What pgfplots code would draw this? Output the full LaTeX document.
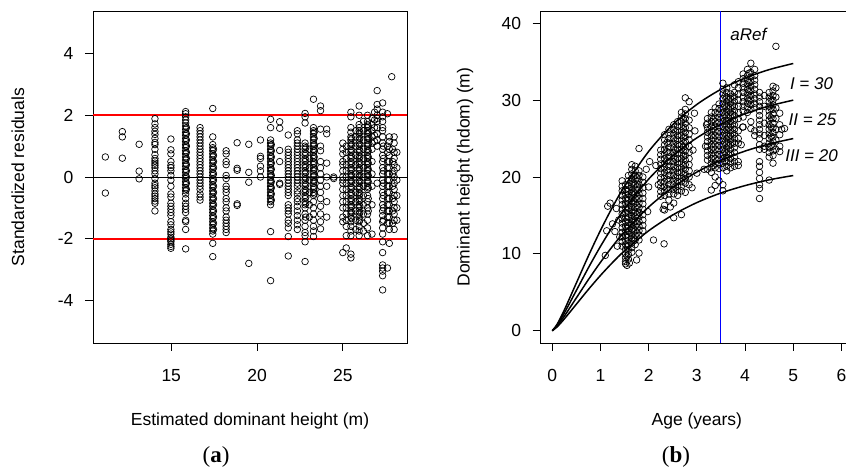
\documentclass[border=0pt]{standalone}
\usepackage{fontspec}
\setmainfont{Liberation Sans}
\newfontfamily\capfont{Liberation Serif}
\usepackage{pgfplots}
\pgfplotsset{compat=1.18}

\pgfplotsset{rpanel/.style={
  scale only axis, height=332pt,
  axis line style={black,line width=0.8pt},
  tick align=outside, major tick length=8pt,
  tick style={black,line width=0.8pt},
  xtick pos=bottom, ytick pos=left,
  font=\fontsize{17.5}{21}\selectfont,
  yticklabel style={xshift=-8pt},
  xticklabel style={yshift=-15pt},
  clip=true,
}}
\pgfplotsset{pts/.style={only marks, mark=o, mark size=3.3pt, mark options={line width=0.7pt}, black}}

\begin{document}
\begin{tikzpicture}
\useasboundingbox (0,0) rectangle (846pt,470pt);
\clip (0,0) rectangle (846pt,470pt);

% (a) residuals
\begin{axis}[rpanel,
  at={(93pt,127pt)}, anchor=south west, width=314pt,
  xmin=10.44, xmax=28.74, ymin=-5.38, ymax=5.38,
  xtick={15,20,25}, xticklabels={15,20,25},
  ytick={-4,-2,0,2,4}, yticklabels={-4,-2,0,2,4},
  xlabel={Estimated dominant height (m)},
  xlabel style={at={(axis description cs:0.5,-0.235)},anchor=center},
  ylabel={Standardized residuals},
  ylabel style={at={(axis description cs:-0.239,0.5)},anchor=center}]
\addplot[pts] coordinates {
(11.16,0.65)(11.16,-0.52)
(12.15,1.47)(12.15,1.3)(12.15,0.61)
(13.13,1.06)(13.13,0.19)(13.13,-0.06)
(14.05,1.89)(14.05,1.72)(14.05,1.6)(14.05,1.48)(14.05,1.38)(14.05,1.25)(14.05,1.12)(14.05,1.05)(14.05,0.9)(14.05,0.72)(14.05,0.6)(14.05,0.52)(14.05,0.45)(14.05,0.38)(14.05,0.3)(14.05,0.2)(14.05,0.1)(14.05,-0.05)(14.05,-0.2)(14.05,-0.28)(14.05,-0.35)(14.05,-0.45)(14.05,-0.55)(14.05,-0.62)(14.05,-0.7)(14.05,-0.78)(14.05,-0.85)(14.05,-1.1)
(14.98,1.23)(14.98,0.88)(14.98,0.75)(14.98,0.5)(14.98,0.38)(14.98,0.3)(14.98,0.2)(14.98,0.05)(14.98,-0.1)(14.98,-0.3)(14.98,-0.55)(14.98,-0.65)(14.98,-0.85)(14.98,-0.95)(14.98,-1.05)(14.98,-1.15)(14.98,-1.25)(14.98,-1.45)(14.98,-1.55)(14.98,-1.7)(14.98,-1.78)(14.98,-1.85)(14.98,-1.95)(14.98,-2.0)(14.98,-2.05)(14.98,-2.1)(14.98,-2.18)(14.98,-2.25)(14.98,-2.31)
(15.84,2.12)(15.84,2.05)(15.84,1.95)(15.84,1.85)(15.84,1.75)(15.84,1.65)(15.84,1.55)(15.84,1.45)(15.84,1.35)(15.84,1.25)(15.84,1.15)(15.84,1.05)(15.84,0.95)(15.84,0.85)(15.84,0.75)(15.84,0.65)(15.84,0.55)(15.84,0.45)(15.84,0.35)(15.84,0.25)(15.84,0.15)(15.84,0.05)(15.84,-0.05)(15.84,-0.15)(15.84,-0.25)(15.84,-0.35)(15.84,-0.45)(15.84,-0.55)(15.84,-0.7)(15.84,-0.85)(15.84,-0.95)(15.84,-1.05)(15.84,-1.15)(15.84,-1.4)(15.84,-1.45)(15.84,-1.7)(15.84,-2.33)
(16.68,1.6)(16.68,1.5)(16.68,1.4)(16.68,1.3)(16.68,1.2)(16.68,1.1)(16.68,1.0)(16.68,0.9)(16.68,0.8)(16.68,0.7)(16.68,0.6)(16.68,0.5)(16.68,0.4)(16.68,0.3)(16.68,0.2)(16.68,0.1)(16.68,0.0)(16.68,-0.1)(16.68,-0.2)(16.68,-0.3)(16.68,-0.4)(16.68,-0.55)(16.68,-0.65)(16.68,-0.75)
(17.42,2.22)(17.42,1.3)(17.42,1.05)(17.42,0.95)(17.42,0.85)(17.42,0.75)(17.42,0.65)(17.42,0.55)(17.42,0.45)(17.42,0.35)(17.42,0.25)(17.42,0.15)(17.42,0.05)(17.42,-0.05)(17.42,-0.15)(17.42,-0.25)(17.42,-0.35)(17.42,-0.45)(17.42,-0.55)(17.42,-0.65)(17.42,-0.75)(17.42,-0.85)(17.42,-0.95)(17.42,-1.05)(17.42,-1.15)(17.42,-1.25)(17.42,-1.35)(17.42,-1.45)(17.42,-1.55)(17.42,-1.65)(17.42,-1.75)(17.42,-1.85)(17.42,-2.15)(17.42,-2.58)
(18.2,0.85)(18.2,0.75)(18.2,0.5)(18.2,0.4)(18.2,0.05)(18.2,-0.05)(18.2,-0.3)(18.2,-0.4)(18.2,-0.5)(18.2,-0.7)(18.2,-0.8)(18.2,-1.0)(18.2,-1.1)(18.2,-1.3)(18.2,-1.4)(18.2,-1.5)(18.2,-1.6)(18.2,-1.7)(18.2,-1.8)
(18.84,1.11)(18.84,0.28)(18.84,0.22)(18.84,-0.87)(18.84,-0.92)
(19.52,1.06)(19.52,0.15)(19.52,-0.17)(19.52,-2.8)
(20.2,1.2)(20.2,0.67)(20.2,0.6)(20.2,0.35)(20.2,0.2)(20.2,0.0)
(20.79,1.87)(20.79,1.6)(20.79,1.2)(20.79,1.1)(20.79,1.0)(20.79,0.9)(20.79,0.8)(20.79,0.7)(20.79,0.6)(20.79,0.5)(20.79,0.4)(20.79,0.3)(20.79,0.2)(20.79,0.1)(20.79,0.0)(20.79,-0.1)(20.79,-0.2)(20.79,-0.3)(20.79,-0.4)(20.79,-0.5)(20.79,-0.6)(20.79,-0.7)(20.79,-0.8)(20.79,-0.9)(20.79,-1.77)(20.79,-3.36)
(21.32,1.79)(21.32,1.58)(21.32,0.86)(21.32,0.5)(21.32,-0.24)(21.32,-0.2)
(21.82,1.36)(21.82,0.9)(21.82,0.8)(21.82,0.7)(21.82,0.6)(21.82,0.5)(21.82,0.4)(21.82,0.3)(21.82,0.2)(21.82,0.1)(21.82,0.0)(21.82,-0.1)(21.82,-0.2)(21.82,-0.3)(21.82,-0.4)(21.82,-0.5)(21.82,-0.6)(21.82,-0.9)(21.82,-1.0)(21.82,-1.1)(21.82,-1.2)(21.82,-1.4)(21.82,-1.5)(21.82,-1.65)(21.82,-1.93)(21.82,-2.56)
(22.35,1.5)(22.35,1.4)(22.35,1.2)(22.35,1.1)(22.35,1.0)(22.35,0.9)(22.35,0.8)(22.35,0.7)(22.35,0.6)(22.35,0.5)(22.35,0.4)(22.35,0.3)(22.35,0.2)(22.35,0.1)(22.35,0.0)(22.35,-0.1)(22.35,-0.2)(22.35,-0.3)(22.35,-0.45)(22.35,-0.55)(22.35,-0.7)(22.35,-0.8)(22.35,-0.95)(22.35,-1.1)(22.35,-1.25)(22.35,-1.4)(22.35,-1.55)(22.35,-1.7)
(22.8,2.06)(22.8,1.95)(22.8,1.75)(22.8,1.1)(22.8,1.0)(22.8,0.9)(22.8,0.8)(22.8,0.7)(22.8,0.6)(22.8,0.5)(22.8,0.4)(22.8,0.3)(22.8,0.2)(22.8,0.1)(22.8,0.0)(22.8,-0.1)(22.8,-0.2)(22.8,-0.3)(22.8,-0.4)(22.8,-0.5)(22.8,-0.6)(22.8,-0.7)(22.8,-0.8)(22.8,-0.9)(22.8,-1.0)(22.8,-1.2)(22.8,-1.4)(22.8,-1.6)(22.8,-1.8)(22.8,-1.9)(22.8,-2.1)(22.8,-2.74)
(23.05,0.9)(23.05,0.6)(23.05,0.3)(23.05,-0.1)(23.05,-0.5)(23.05,-0.9)(23.05,-1.3)
(23.29,2.52)(23.29,1.6)(23.29,1.5)(23.29,1.4)(23.29,1.3)(23.29,1.2)(23.29,1.1)(23.29,1.0)(23.29,0.9)(23.29,0.8)(23.29,0.7)(23.29,0.6)(23.29,0.5)(23.29,0.4)(23.29,0.3)(23.29,0.2)(23.29,0.1)(23.29,0.0)(23.29,-0.1)(23.29,-0.2)(23.29,-0.3)(23.29,-0.4)(23.29,-0.5)(23.29,-0.6)(23.29,-0.8)(23.29,-1.0)(23.29,-1.2)(23.29,-1.4)(23.29,-1.6)(23.29,-1.75)(23.29,-1.93)
(23.7,2.3)(23.7,2.15)(23.7,1.55)(23.7,1.0)(23.7,0.85)(23.7,0.5)(23.7,0.3)(23.7,0.1)(23.7,-0.1)(23.7,-0.3)(23.7,-0.5)(23.7,-0.7)(23.7,-0.95)(23.7,-1.2)(23.7,-1.45)(23.7,-1.68)
(24.06,1.55)(24.06,1.4)(24.06,0.45)(24.06,0.0)(24.06,-0.3)(24.06,-0.8)(24.06,-1.3)
(24.47,0.0)(24.47,-0.05)
(25.0,1.1)(25.0,0.9)(25.0,0.75)(25.0,0.5)(25.0,0.4)(25.0,0.2)(25.0,0.0)(25.0,-0.1)(25.0,-0.2)(25.0,-0.4)(25.0,-0.6)(25.0,-0.8)(25.0,-1.0)(25.0,-1.3)(25.0,-1.45)(25.0,-2.45)
(25.2,1.0)(25.2,0.8)(25.2,0.6)(25.2,0.4)(25.2,0.2)(25.2,0.0)(25.2,-0.2)(25.2,-0.4)(25.2,-0.6)(25.2,-0.8)(25.2,-1.0)(25.2,-1.2)(25.2,-1.4)(25.2,-1.6)(25.2,-1.9)(25.2,-2.3)
(25.47,2.1)(25.47,1.95)(25.47,1.6)(25.47,1.45)(25.47,1.3)(25.47,1.2)(25.47,1.1)(25.47,1.0)(25.47,0.9)(25.47,0.8)(25.47,0.7)(25.47,0.6)(25.47,0.5)(25.47,0.4)(25.47,0.3)(25.47,0.2)(25.47,0.1)(25.47,0.0)(25.47,-0.1)(25.47,-0.2)(25.47,-0.3)(25.47,-0.4)(25.47,-0.5)(25.47,-0.6)(25.47,-0.7)(25.47,-0.8)(25.47,-0.9)(25.47,-1.0)(25.47,-1.1)(25.47,-1.2)(25.47,-1.3)(25.47,-1.45)(25.47,-1.6)(25.47,-1.75)(25.47,-1.9)(25.47,-2.5)(25.47,-2.62)
(25.75,1.5)(25.75,1.3)(25.75,1.0)(25.75,0.7)(25.75,0.4)(25.75,0.1)(25.75,-0.2)(25.75,-0.5)(25.75,-0.8)(25.75,-1.1)(25.75,-1.4)(25.75,-1.7)
(25.95,2.3)(25.95,2.0)(25.95,1.7)(25.95,1.6)(25.95,1.5)(25.95,1.4)(25.95,1.3)(25.95,1.2)(25.95,1.1)(25.95,1.0)(25.95,0.9)(25.95,0.8)(25.95,0.7)(25.95,0.6)(25.95,0.5)(25.95,0.4)(25.95,0.3)(25.95,0.2)(25.95,0.1)(25.95,0.0)(25.95,-0.1)(25.95,-0.2)(25.95,-0.3)(25.95,-0.4)(25.95,-0.5)(25.95,-0.6)(25.95,-0.7)(25.95,-0.8)(25.95,-0.9)(25.95,-1.0)(25.95,-1.1)(25.95,-1.2)(25.95,-1.3)(25.95,-1.45)(25.95,-1.6)(25.95,-1.75)(25.95,-1.9)
(26.2,1.8)(26.2,1.5)(26.2,1.2)(26.2,0.9)(26.2,0.6)(26.2,0.3)(26.2,0.0)(26.2,-0.3)(26.2,-0.6)(26.2,-0.9)(26.2,-1.2)(26.2,-1.5)(26.2,-1.75)
(26.44,2.0)(26.44,1.8)(26.44,1.7)(26.44,1.6)(26.44,1.5)(26.44,1.4)(26.44,1.3)(26.44,1.2)(26.44,1.1)(26.44,1.0)(26.44,0.9)(26.44,0.8)(26.44,0.7)(26.44,0.6)(26.44,0.5)(26.44,0.4)(26.44,0.3)(26.44,0.2)(26.44,0.1)(26.44,0.0)(26.44,-0.1)(26.44,-0.2)(26.44,-0.3)(26.44,-0.4)(26.44,-0.6)(26.44,-0.8)(26.44,-1.0)(26.44,-1.2)(26.44,-1.4)(26.44,-1.65)(26.44,-1.9)
(26.7,1.9)(26.7,1.7)(26.7,1.5)(26.7,1.3)(26.7,1.1)(26.7,0.9)(26.7,0.5)(26.7,0.1)(26.7,-0.3)(26.7,-0.9)(26.7,-1.85)
(27.0,2.8)(27.0,2.35)(27.0,2.2)(27.0,2.0)(27.0,1.9)(27.0,1.8)(27.0,1.6)(27.0,1.4)(27.0,1.2)(27.0,1.0)(27.0,-0.2)
(27.32,2.4)(27.32,2.1)(27.32,1.95)(27.32,1.8)(27.32,1.6)(27.32,1.5)(27.32,1.3)(27.32,1.1)(27.32,0.9)(27.32,0.7)(27.32,0.5)(27.32,0.3)(27.32,0.1)(27.32,-0.1)(27.32,-0.3)(27.32,-0.5)(27.32,-0.7)(27.32,-0.9)(27.32,-1.1)(27.32,-1.25)(27.32,-1.45)(27.32,-1.65)(27.32,-1.85)(27.32,-2.1)(27.32,-2.45)(27.32,-2.85)(27.32,-2.95)(27.32,-3.05)(27.32,-3.2)(27.32,-3.66)
(27.6,2.05)(27.6,1.0)(27.6,0.8)(27.6,0.5)(27.6,0.3)(27.6,0.1)(27.6,-0.1)(27.6,-0.3)(27.6,-0.5)(27.6,-0.7)(27.6,-0.9)(27.6,-1.1)(27.6,-1.3)(27.6,-1.5)(27.6,-2.95)
(27.71,1.3)(27.71,1.15)(27.71,0.9)(27.71,0.7)(27.71,0.5)(27.71,0.3)(27.71,0.1)(27.71,-0.1)(27.71,-0.3)(27.71,-0.5)(27.71,-0.7)(27.71,-0.9)(27.71,-1.1)(27.71,-1.3)(27.71,-1.5)(27.71,-1.7)(27.71,-2.15)
(27.99,1.3)(27.99,1.1)(27.99,0.8)(27.99,0.6)(27.99,0.4)(27.99,0.2)(27.99,0.0)(27.99,-0.2)(27.99,-0.4)(27.99,-0.6)(27.99,-0.8)(27.99,-1.0)(27.99,-1.2)(27.99,-1.4)(27.99,-1.7)
(27.85,3.25)
(28.15,0.8)(28.15,0.3)(28.15,-0.1)(28.15,-0.6)(28.15,-1.0)(28.15,-1.4)
};
% denser cores of the heavy columns
\addplot[pts] coordinates {
(15.88,1.6)(15.88,1.4)(15.88,1.2)(15.88,1.0)(15.88,0.8)(15.88,0.6)(15.88,0.4)(15.88,0.2)(15.88,0.0)(15.88,-0.2)(15.88,-0.4)
(17.46,0.9)(17.46,0.7)(17.46,0.5)(17.46,0.3)(17.46,0.1)(17.46,-0.1)(17.46,-0.3)(17.46,-0.5)(17.46,-0.7)(17.46,-0.9)(17.46,-1.1)(17.46,-1.3)(17.46,-1.5)(17.46,-1.7)
(20.83,1.05)(20.83,0.85)(20.83,0.65)(20.83,0.45)(20.83,0.25)(20.83,0.05)(20.83,-0.15)(20.83,-0.35)(20.83,-0.55)(20.83,-0.75)
(22.84,0.95)(22.84,0.75)(22.84,0.55)(22.84,0.35)(22.84,0.15)(22.84,-0.05)(22.84,-0.25)(22.84,-0.45)(22.84,-0.65)(22.84,-0.85)(22.84,-1.3)
(23.33,1.45)(23.33,1.25)(23.33,1.05)(23.33,0.85)(23.33,0.65)(23.33,0.45)(23.33,0.25)(23.33,0.05)(23.33,-0.15)(23.33,-0.35)(23.33,-0.55)
(25.51,1.25)(25.51,1.05)(25.51,0.85)(25.51,0.65)(25.51,0.45)(25.51,0.25)(25.51,0.05)(25.51,-0.15)(25.51,-0.35)(25.51,-0.55)(25.51,-0.75)(25.51,-0.95)(25.51,-1.15)(25.51,-1.35)
(25.99,1.45)(25.99,1.25)(25.99,1.05)(25.99,0.85)(25.99,0.65)(25.99,0.45)(25.99,0.25)(25.99,0.05)(25.99,-0.15)(25.99,-0.35)(25.99,-0.55)(25.99,-0.75)(25.99,-0.95)(25.99,-1.15)(25.99,-1.4)
(26.48,1.65)(26.48,1.45)(26.48,1.25)(26.48,1.05)(26.48,0.85)(26.48,0.65)(26.48,0.45)(26.48,0.25)(26.48,0.05)(26.48,-0.15)(26.48,-0.35)(26.48,-0.7)(26.48,-1.1)
(26.85,2.1)(26.85,1.85)(26.85,1.6)(26.85,1.35)(26.85,1.15)
(27.36,1.0)(27.36,0.6)(27.36,0.2)(27.36,-0.2)(27.36,-0.6)(27.36,-1.0)(27.36,-1.4)
(27.9,0.9)(27.9,0.5)(27.9,0.1)(27.9,-0.3)(27.9,-0.7)(27.9,-1.1)(27.9,-1.5)
};
\addplot[black,line width=0.8pt] coordinates {(10.44,0) (28.74,0)};
\addplot[draw=red,line width=1.6pt] coordinates {(10.44,-2.0) (28.74,-2.0)};
\addplot[draw=red,line width=1.6pt] coordinates {(10.44,2.0) (28.74,2.0)};
\end{axis}

% (b) site curves
\begin{axis}[rpanel,
  at={(540.7pt,127pt)}, anchor=south west, width=312.3pt,
  xmin=-0.24, xmax=6.24, ymin=-1.6, ymax=41.6,
  xtick={0,1,2,3,4,5,6}, xticklabels={0,1,2,3,4,5,6},
  ytick={0,10,20,30,40}, yticklabels={0,10,20,30,40},
  xlabel={Age (years)},
  xlabel style={at={(axis description cs:0.5,-0.235)},anchor=center},
  ylabel={Dominant height (hdom) (m)},
  ylabel style={at={(axis description cs:-0.242,0.5)},anchor=center}]
\addplot[pts] coordinates {
(1.10,9.8)(1.13,13.0)(1.15,16.2)(1.20,16.6)(1.25,13.9)(1.30,12.9)(1.33,15.9)(1.35,11.0)(1.38,14.4)(1.40,12.2)
(1.45,19.5)(1.45,18.8)(1.45,18.2)(1.45,17.6)(1.45,17.0)(1.45,16.4)(1.45,15.8)(1.45,15.2)(1.45,14.6)(1.45,14.0)(1.45,13.4)(1.45,12.8)(1.45,12.2)(1.45,11.6)(1.45,11.0)
(1.52,19.0)(1.52,18.4)(1.52,17.8)(1.52,17.2)(1.52,16.6)(1.52,16.0)(1.52,15.4)(1.52,14.8)(1.52,14.2)(1.52,13.6)(1.52,13.0)(1.52,12.4)(1.52,11.8)(1.52,11.2)(1.52,10.6)(1.52,10.0)(1.52,9.5)(1.52,9.0)(1.52,8.7)
(1.58,20.2)(1.58,19.5)(1.58,18.9)(1.58,18.3)(1.58,17.7)(1.58,17.1)(1.58,16.5)(1.58,15.9)(1.58,15.3)(1.58,14.7)(1.58,14.1)(1.58,13.5)(1.58,12.9)(1.58,12.3)(1.58,11.7)(1.58,11.1)(1.58,10.5)(1.58,9.9)(1.58,9.3)
(1.65,21.6)(1.65,21.0)(1.65,20.4)(1.65,19.8)(1.65,19.2)(1.65,18.6)(1.65,18.0)(1.65,17.4)(1.65,16.8)(1.65,16.2)(1.65,15.6)(1.65,15.0)(1.65,14.4)(1.65,13.8)(1.65,13.2)(1.65,12.6)(1.65,12.0)(1.65,11.4)(1.65,10.8)(1.65,10.2)
(1.72,21.4)(1.72,20.8)(1.72,20.2)(1.72,19.6)(1.72,19.0)(1.72,18.4)(1.72,17.8)(1.72,17.2)(1.72,16.6)(1.72,16.0)(1.72,15.4)(1.72,14.8)(1.72,14.2)(1.72,13.6)(1.72,13.0)(1.72,12.4)(1.72,11.8)(1.72,11.2)
(1.80,20.8)(1.80,20.2)(1.80,19.6)(1.80,19.0)(1.80,18.4)(1.80,17.8)(1.80,17.2)(1.80,16.6)(1.80,16.0)(1.80,15.4)(1.80,14.8)(1.80,14.2)(1.80,13.6)(1.80,13.0)(1.80,12.4)(1.80,11.8)(1.80,10.1)(1.80,23.7)
(1.88,20.0)(1.88,19.3)(1.88,18.6)(1.88,17.9)(1.88,17.2)(1.88,16.5)(1.88,15.8)(1.88,15.1)(1.88,14.4)(1.88,13.7)(1.88,13.0)
(1.75,9.2)(1.95,21.0)(2.02,22.0)(2.0,18.7)(1.98,15.5)(2.1,11.8)(2.32,11.3)(1.6,8.8)(1.55,8.5)
(2.25,23.5)(2.25,22.9)(2.25,22.3)(2.25,21.7)(2.25,21.1)(2.25,20.5)(2.25,19.9)(2.25,19.3)(2.25,18.7)(2.25,18.1)(2.25,17.5)
(2.33,25.5)(2.33,24.8)(2.33,24.2)(2.33,23.6)(2.33,23.0)(2.33,22.4)(2.33,21.8)(2.33,21.2)(2.33,20.6)(2.33,20.0)(2.33,19.4)(2.33,18.8)(2.33,18.2)(2.33,17.6)(2.33,16.3)(2.33,15.7)
(2.42,26.2)(2.42,25.6)(2.42,25.0)(2.42,24.4)(2.42,23.8)(2.42,23.2)(2.42,22.6)(2.42,22.0)(2.42,21.4)(2.42,20.8)(2.42,20.2)(2.42,19.6)(2.42,19.0)(2.42,18.4)(2.42,17.8)(2.42,17.0)
(2.52,26.8)(2.52,26.2)(2.52,25.6)(2.52,25.0)(2.52,24.4)(2.52,23.8)(2.52,23.2)(2.52,22.6)(2.52,22.0)(2.52,21.4)(2.52,20.8)(2.52,20.2)(2.52,19.6)(2.52,19.0)(2.52,18.4)(2.52,17.8)(2.52,16.6)(2.52,14.7)
(2.6,27.2)(2.6,26.6)(2.6,26.0)(2.6,25.4)(2.6,24.8)(2.6,24.2)(2.6,23.6)(2.6,23.0)(2.6,22.4)(2.6,21.8)(2.6,21.2)(2.6,20.6)(2.6,20.0)(2.6,19.4)(2.6,18.8)(2.6,18.2)(2.6,17.6)
(2.68,28.4)(2.68,27.8)(2.68,27.2)(2.68,26.6)(2.68,26.0)(2.68,25.4)(2.68,24.8)(2.68,24.2)(2.68,23.6)(2.68,23.0)(2.68,22.4)(2.68,21.8)(2.68,21.2)(2.68,20.6)(2.68,20.0)(2.68,19.4)(2.68,18.8)(2.68,18.2)(2.68,15.1)
(2.76,30.3)(2.76,28.8)(2.76,28.2)(2.76,27.6)(2.76,27.0)(2.76,26.4)(2.76,25.8)(2.76,25.2)(2.76,24.6)(2.76,24.0)(2.76,23.4)(2.76,22.8)(2.76,22.2)(2.76,21.6)(2.76,21.0)(2.76,20.4)(2.76,19.8)(2.76,19.2)(2.76,18.0)
(2.84,29.8)(2.84,27.4)(2.84,26.4)(2.84,25.6)(2.84,24.8)(2.84,24.0)(2.84,23.2)(2.84,22.4)(2.84,21.6)(2.84,20.8)(2.84,20.0)(2.84,19.0)
(2.95,28.3)(2.96,26.0)(2.92,23.5)(3.0,20.5)(2.9,18.6)(2.15,21.5)(2.2,19.0)(2.3,15.8)(2.45,16.1)
(3.22,27.6)(3.22,27.0)(3.22,26.4)(3.22,25.8)(3.22,25.2)(3.22,24.6)(3.22,24.0)(3.22,23.4)(3.22,22.8)(3.22,22.2)(3.22,21.0)
(3.3,28.4)(3.3,27.8)(3.3,27.2)(3.3,26.6)(3.3,26.0)(3.3,25.4)(3.3,24.8)(3.3,24.2)(3.3,23.6)(3.3,23.0)(3.3,22.4)(3.3,21.8)(3.3,21.2)(3.3,20.6)(3.3,18.3)
(3.38,29.0)(3.38,28.4)(3.38,27.8)(3.38,27.2)(3.38,26.6)(3.38,26.0)(3.38,25.4)(3.38,24.8)(3.38,24.2)(3.38,23.6)(3.38,23.0)(3.38,22.4)(3.38,21.8)(3.38,21.2)(3.38,20.0)(3.38,18.9)
(3.46,29.5)(3.46,28.9)(3.46,28.3)(3.46,27.7)(3.46,27.1)(3.46,26.5)(3.46,25.9)(3.46,25.3)(3.46,24.7)(3.46,24.1)(3.46,23.5)(3.46,22.9)(3.46,22.3)(3.46,21.7)(3.46,21.1)(3.46,19.5)
(3.54,32.2)(3.54,31.4)(3.54,30.8)(3.54,30.2)(3.54,29.6)(3.54,29.0)(3.54,28.4)(3.54,27.8)(3.54,27.2)(3.54,26.6)(3.54,26.0)(3.54,25.4)(3.54,24.8)(3.54,24.2)(3.54,23.6)(3.54,23.0)(3.54,22.4)(3.54,21.8)(3.54,21.2)(3.54,19.0)(3.54,18.2)
(3.62,31.6)(3.62,31.0)(3.62,30.4)(3.62,29.8)(3.62,29.2)(3.62,28.6)(3.62,28.0)(3.62,27.4)(3.62,26.8)(3.62,26.2)(3.62,25.6)(3.62,25.0)(3.62,24.4)(3.62,23.8)(3.62,23.2)(3.62,22.6)(3.62,22.0)(3.62,21.4)(3.62,20.8)
(3.7,30.8)(3.7,30.2)(3.7,29.6)(3.7,29.0)(3.7,28.4)(3.7,27.8)(3.7,27.2)(3.7,26.6)(3.7,26.0)(3.7,25.4)(3.7,24.8)(3.7,24.2)(3.7,23.6)(3.7,23.0)(3.7,22.4)(3.7,21.8)(3.7,21.2)
(3.78,32.0)(3.78,31.0)(3.78,30.4)(3.78,29.8)(3.78,29.2)(3.78,28.6)(3.78,28.0)(3.78,27.4)(3.78,26.8)(3.78,26.2)(3.78,25.6)(3.78,25.0)(3.78,24.4)(3.78,23.8)(3.78,23.2)(3.78,22.6)(3.78,22.0)(3.78,21.4)
(3.86,32.4)(3.86,31.6)(3.86,30.8)(3.86,30.0)(3.86,29.2)(3.86,28.4)(3.86,27.6)(3.86,26.0)(3.86,25.0)(3.86,24.4)(3.86,22.0)(3.86,21.5)
(3.15,21.0)(3.18,24.0)(3.2,26.8)(3.95,26.5)(3.92,24.2)
(3.96,33.4)(3.96,32.8)(3.96,32.2)(3.96,31.6)(3.96,31.0)(3.96,30.4)(3.96,29.8)(3.96,29.2)(3.96,28.6)(3.96,27.8)(3.96,26.5)
(4.05,34.0)(4.05,33.2)(4.05,32.6)(4.05,32.0)(4.05,31.4)(4.05,30.8)(4.05,30.2)(4.05,29.6)(4.05,29.0)(4.05,28.4)
(4.12,34.8)(4.12,33.6)(4.12,33.0)(4.12,32.4)(4.12,31.8)(4.12,31.2)(4.12,30.6)(4.12,30.0)(4.12,29.4)(4.12,28.8)(4.12,27.2)(4.12,26.3)
(4.2,34.0)(4.2,33.2)(4.2,32.6)(4.2,32.0)(4.2,31.4)(4.2,30.8)(4.2,30.2)(4.2,29.6)(4.2,29.0)(4.2,26.0)(4.2,25.4)
(4.3,31.0)(4.3,30.4)(4.3,29.8)(4.3,29.2)(4.3,28.6)(4.3,28.0)(4.3,27.4)(4.3,26.8)(4.3,26.2)(4.3,25.6)(4.3,25.0)(4.3,24.2)(4.3,23.6)(4.3,22.0)(4.3,21.4)(4.3,20.6)(4.3,19.8)(4.3,19.0)(4.3,18.5)(4.3,17.2)
(4.4,30.6)(4.4,29.2)(4.4,27.0)(4.4,25.4)(4.4,24.0)(4.4,23.6)
(4.5,31.0)(4.5,30.4)(4.5,29.8)(4.5,29.2)(4.5,28.6)(4.5,28.0)(4.5,27.4)(4.5,26.8)(4.5,26.2)(4.5,25.6)(4.5,25.0)(4.5,24.4)(4.5,23.8)(4.5,23.2)(4.5,22.6)(4.5,19.6)
(4.58,31.8)(4.58,31.2)(4.58,30.6)(4.58,30.0)(4.58,29.4)(4.58,28.8)(4.58,28.2)(4.58,27.6)(4.58,27.0)(4.58,26.4)(4.58,25.8)(4.58,25.2)(4.58,24.6)(4.58,24.0)(4.58,23.4)(4.58,22.8)(4.58,21.8)
(4.64,37.0)(4.64,31.6)(4.64,30.4)(4.64,29.0)(4.64,27.6)(4.64,26.2)(4.64,24.8)(4.64,23.6)
(4.72,28.3)(4.72,26.8)(4.72,25.5)(4.72,24.0)(4.72,23.3)
(4.82,26.3)(4.76,26.2)
};
% denser cores of the heavy age groups
\addplot[pts] coordinates {
(1.55,18.1)(1.55,16.9)(1.55,15.7)(1.55,14.5)(1.55,13.3)(1.55,12.1)(1.55,10.9)(1.55,9.7)
(1.69,20.1)(1.69,18.9)(1.69,17.7)(1.69,16.5)(1.69,15.3)(1.69,14.1)(1.69,12.9)(1.69,11.7)
(1.76,19.9)(1.76,18.7)(1.76,17.5)(1.76,16.3)(1.76,15.1)(1.76,13.9)(1.76,12.7)
(2.38,24.5)(2.38,23.3)(2.38,22.1)(2.38,20.9)(2.38,19.7)(2.38,18.5)
(2.56,25.9)(2.56,24.7)(2.56,23.5)(2.56,22.3)(2.56,21.1)(2.56,19.9)(2.56,18.7)
(2.72,27.5)(2.72,26.3)(2.72,25.1)(2.72,23.9)(2.72,22.7)(2.72,21.5)(2.72,20.3)
(3.34,27.5)(3.34,26.3)(3.34,25.1)(3.34,23.9)(3.34,22.7)(3.34,21.5)
(3.58,30.5)(3.58,29.3)(3.58,28.1)(3.58,26.9)(3.58,25.7)(3.58,24.5)(3.58,23.3)(3.58,22.1)
(3.66,30.1)(3.66,28.9)(3.66,27.7)(3.66,26.5)(3.66,25.3)(3.66,24.1)(3.66,22.9)
(3.74,30.5)(3.74,29.3)(3.74,28.1)(3.74,26.9)(3.74,25.7)(3.74,24.5)
(4.08,33.5)(4.08,32.3)(4.08,31.1)(4.08,29.9)
(4.54,30.1)(4.54,28.9)(4.54,27.7)(4.54,26.5)(4.54,25.3)(4.54,24.1)
};
\addplot[black,line width=1.5pt,smooth] coordinates {(0,0)(0.1,0.83)(0.25,2.69)(0.5,6.21)(0.75,9.73)(1,13.05)(1.25,16.08)(1.5,18.79)(2,23.33)(2.5,26.81)(3,29.44)(3.5,31.41)(4,32.88)(4.5,33.97)(5,34.77)};
\addplot[black,line width=1.5pt,smooth] coordinates {(0,0)(0.1,0.72)(0.25,2.30)(0.5,5.24)(0.75,8.19)(1,10.97)(1.25,13.53)(1.5,15.84)(2,19.73)(2.5,22.76)(3,25.09)(3.5,26.87)(4,28.22)(4.5,29.24)(5,30.00)};
\addplot[black,line width=1.5pt,smooth] coordinates {(0,0)(0.1,0.61)(0.25,1.89)(0.5,4.27)(0.75,6.65)(1,8.90)(1.25,10.98)(1.5,12.88)(2,16.09)(2.5,18.64)(3,20.64)(3.5,22.18)(4,23.37)(4.5,24.30)(5,25.00)};
\addplot[black,line width=1.5pt,smooth] coordinates {(0,0)(0.1,0.49)(0.25,1.53)(0.5,3.45)(0.75,5.37)(1,7.19)(1.25,8.87)(1.5,10.40)(2,13.00)(2.5,15.06)(3,16.67)(3.5,17.92)(4,18.88)(4.5,19.63)(5,20.19)};
\addplot[blue,line width=1pt] coordinates {(3.5,-1.6) (3.5,41.6)};
\node[font=\fontsize{17}{20}\selectfont\itshape] at (axis cs:4.07,38.6) {aRef};
\node[font=\fontsize{17}{20}\selectfont\itshape] at (axis cs:5.38,32.2) {I = 30};
\node[font=\fontsize{17}{20}\selectfont\itshape] at (axis cs:5.40,27.4) {II = 25};
\node[font=\fontsize{17}{20}\selectfont\itshape] at (axis cs:5.38,22.8) {III = 20};
\end{axis}

\node[font=\capfont\fontsize{23}{26}\selectfont] at (216pt,13pt) {(\textbf{a})};
\node[font=\capfont\fontsize{23}{26}\selectfont] at (676pt,13pt) {(\textbf{b})};
\end{tikzpicture}
\end{document}
